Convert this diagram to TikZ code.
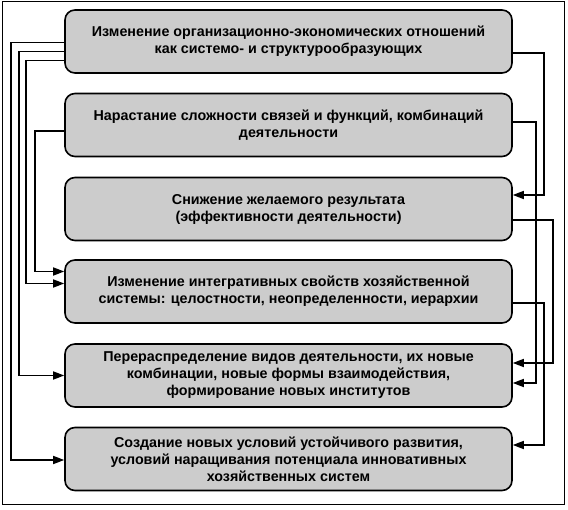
\documentclass[tikz,border=0pt]{standalone}
\usepackage{fontspec}
\setmainfont{Liberation Sans}
\usetikzlibrary{arrows.meta}
\begin{document}
\begin{tikzpicture}[x=1pt,y=-1pt,font=\fontsize{14.3}{17}\selectfont\bfseries,
  box/.style={draw,line width=1.6pt,rounded corners=10pt,fill=gray!40,
    minimum width=447pt,minimum height=63pt,align=center,inner sep=2pt},
  link/.style={line width=1.6pt,-{Triangle[length=11pt,width=8pt]}}]

\useasboundingbox (0,0) rectangle (568,510);
\draw[line width=1pt] (2,2) rectangle (564,505);

\node[box] (b1) at (288.5,41.5) {Изменение организационно-экономических отношений\\как системо- и структурообразующих};
\node[box] (b2) at (288.5,125) {Нарастание сложности связей и функций, комбинаций\\деятельности};
\node[box] (b3) at (288.5,209) {Снижение желаемого результата\\(эффективности деятельности)};
\node[box] (b4) at (288.5,291.5) {Изменение интегративных свойств хозяйственной\\системы: целостности, неопределенности, иерархии};
\node[box] (b5) at (288.5,375.5) {Перераспределение видов деятельности, их новые\\комбинации, новые формы взаимодействия,\\формирование новых институтов};
\node[box] (b6) at (288.5,459) {Создание новых условий устойчивого развития,\\условий наращивания потенциала инновативных\\хозяйственных систем};

% left side
\begin{scope}[link]
\draw ([yshift=-1pt]b1.west) -- ++(-53,0) |- ([yshift=-1pt]b6.west);
\draw ([yshift=-10pt]b1.west) -- ++(-45,0) |- (b5.west);
\draw ([yshift=-19pt]b1.west) -- ++(-38,0) |- ([yshift=8pt]b4.west);
\draw ([yshift=-6pt]b2.west) -- ++(-29,0) |- ([yshift=20pt]b4.west);
\end{scope}

% right side
\begin{scope}[link]
\draw ([yshift=-11.5pt]b1.east) -- ++(31,0) |- ([yshift=14pt]b3.east);
\draw ([yshift=3pt]b2.east) -- ++(23,0) |- ([yshift=-7.5pt]b5.east);
\draw ([yshift=-11pt]b3.east) -- ++(40,0) |- ([yshift=12.5pt]b5.east);
\draw ([yshift=-11.5pt]b4.east) -- ++(31,0) |- ([yshift=14pt]b6.east);
\end{scope}

\end{tikzpicture}
\end{document}
